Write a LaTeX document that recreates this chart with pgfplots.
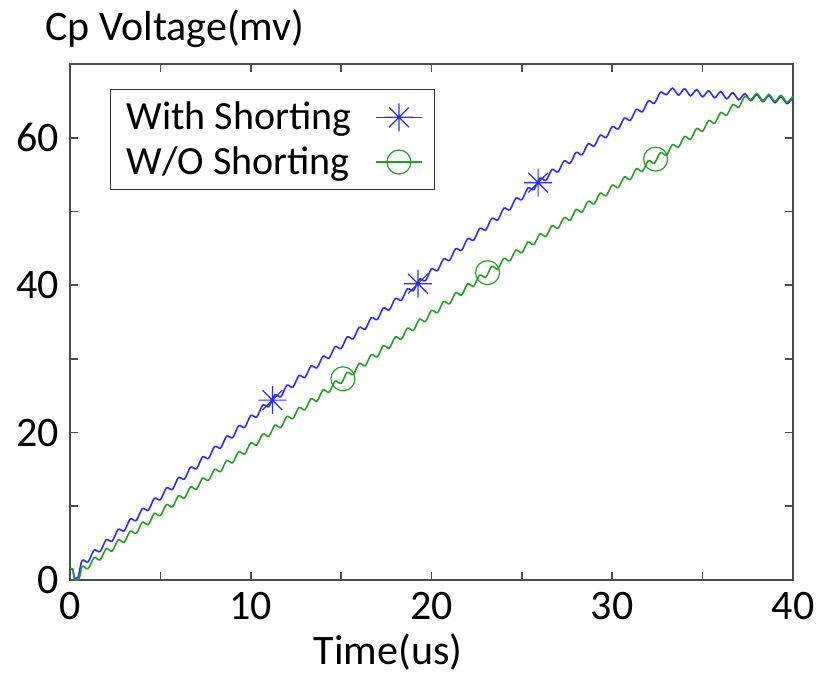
\documentclass[border=0pt]{standalone}
\usepackage{pgfplots}
\pgfplotsset{compat=1.18}
\usepackage{fontspec}
\setmainfont{Carlito}
\definecolor{mblue}{RGB}{45,45,250}
\definecolor{mgreen}{RGB}{40,155,40}
\pgfdeclareplotmark{mstar}{%
 \pgfpathmoveto{\pgfqpoint{-\pgfplotmarksize}{0pt}}\pgfpathlineto{\pgfqpoint{\pgfplotmarksize}{0pt}}%
 \pgfpathmoveto{\pgfqpoint{0pt}{-\pgfplotmarksize}}\pgfpathlineto{\pgfqpoint{0pt}{\pgfplotmarksize}}%
 \pgfpathmoveto{\pgfqpoint{-.707\pgfplotmarksize}{-.707\pgfplotmarksize}}\pgfpathlineto{\pgfqpoint{.707\pgfplotmarksize}{.707\pgfplotmarksize}}%
 \pgfpathmoveto{\pgfqpoint{-.707\pgfplotmarksize}{.707\pgfplotmarksize}}\pgfpathlineto{\pgfqpoint{.707\pgfplotmarksize}{-.707\pgfplotmarksize}}%
 \pgfusepathqstroke}
\begin{document}
\begin{tikzpicture}
\path[use as bounding box] (-35pt,-48pt) rectangle (374.5pt,290pt);
\begin{axis}[
  scale only axis,
  width=361.5pt, height=258pt,
  xmin=0, xmax=40, ymin=0, ymax=70,
  xtick={0,10,20,30,40}, minor xtick={5,15,25,35},
  ytick={0,20,40,60}, minor ytick={10,30,50,70},
  tick align=inside,
  major tick length=4pt, minor tick length=4pt,
  axis line style={black!70, line width=0.8pt},
  every tick/.style={black!70, line width=0.8pt},
  every minor tick/.style={black!70, line width=0.8pt},
  /pgf/number format/assume math mode=true,
  tick label style={font=\fontsize{21}{25}\selectfont, inner sep=0pt},
  xticklabel style={yshift=-6pt},
  yticklabel style={xshift=-5.5pt},
  xlabel={Time(us)},
  ylabel={Cp Voltage(mv)},
  every axis x label/.style={at={(rel axis cs:0.44,0)}, anchor=base, yshift=-42pt, inner sep=0pt, font=\fontsize{21}{25}\selectfont},
  every axis y label/.style={at={(rel axis cs:0,1)}, anchor=base west, xshift=-12.5pt, yshift=12pt, inner sep=0pt, font=\fontsize{21}{25}\selectfont},
  legend style={at={(rel axis cs:0.0553,0.951)}, anchor=north west, draw=black!80, line width=0.6pt,
    font=\fontsize{20}{24}\selectfont, legend plot pos=right, legend cell align=left,
    column sep=10pt, row sep=3pt, inner xsep=6pt, inner ysep=4pt},
  legend image code/.code={\draw[mark repeat=2,mark phase=2,#1] plot coordinates {(0pt,0pt) (11.5pt,0pt) (23pt,0pt)};},
]
% With Shorting (blue)
\addplot[mblue, line width=0.8pt, smooth, tension=0.5, forget plot] coordinates {
(0,1.4) (0.15,1.4) (0.25,0.3) (0.45,0.4)
(0.667,2.65) (1,2.46) (1.333,4.06) (1.667,3.86) (2,5.46) (2.333,5.27) (2.667,6.87) (3,6.67)
(3.333,8.27) (3.667,8.08) (4,9.68) (4.333,9.48) (4.667,11.08) (5,10.89) (5.333,12.49) (5.667,12.29)
(6,13.89) (6.333,13.69) (6.667,15.30) (7,15.10) (7.333,16.70) (7.667,16.50) (8,18.11) (8.333,17.91)
(8.667,19.51) (9,19.31) (9.333,20.92) (9.667,20.72) (10,22.32) (10.333,22.12) (10.667,23.73) (11,23.53)
(11.333,25.11) (11.667,24.87) (12,26.42) (12.333,26.17) (12.667,27.73) (13,27.48) (13.333,29.04) (13.667,28.79)
(14,30.35) (14.333,30.10) (14.667,31.66) (15,31.41) (15.333,32.96) (15.667,32.72) (16,34.27) (16.333,34.03)
(16.667,35.58) (17,35.34) (17.333,36.89) (17.667,36.64) (18,38.20) (18.333,37.95) (18.667,39.51) (19,39.26)
(19.333,40.82) (19.667,40.61) (20,42.20) (20.333,41.98) (20.667,43.57) (21,43.36) (21.333,44.94) (21.667,44.73)
(22,46.32) (22.333,46.10) (22.667,47.69) (23,47.48) (23.333,49.06) (23.667,48.85) (24,50.44) (24.333,50.22)
(24.667,51.81) (25,51.60) (25.333,53.18) (25.667,52.97) (26,54.52) (26.333,54.21) (26.667,55.69) (27,55.37)
(27.333,56.85) (27.667,56.54) (28,58.02) (28.333,57.70) (28.667,59.18) (29,58.86) (29.333,60.34) (29.667,60.03)
(30,61.51) (30.333,61.19) (30.667,62.67) (31,62.36) (31.333,63.84) (31.667,63.52) (32,65.00) (32.333,64.68)
(32.667,66.17) (33,65.85) (33.333,66.72) (33.667,65.78) (34,66.65) (34.333,65.68) (34.667,66.52) (35,65.55)
(35.333,66.38) (35.667,65.42) (36,66.25) (36.333,65.28) (36.667,66.12) (37,65.15) (37.333,65.98) (37.667,65.02)
(38,65.85) (38.333,64.88) (38.667,65.72) (39,64.75) (39.333,65.58) (39.667,64.62) (40,65.45)
};
% W/O Shorting (green)
\addplot[mgreen, line width=0.8pt, smooth, tension=0.5, forget plot] coordinates {
(0,1.5) (0.15,1.5) (0.25,0.1) (0.5,0.1)
(0.667,1.85) (1,1.55) (1.333,3.04) (1.667,2.74) (2,4.24) (2.333,3.94) (2.667,5.44) (3,5.14)
(3.333,6.63) (3.667,6.33) (4,7.83) (4.333,7.53) (4.667,9.03) (5,8.73) (5.333,10.22) (5.667,9.92)
(6,11.42) (6.333,11.12) (6.667,12.62) (7,12.32) (7.333,13.81) (7.667,13.51) (8,15.01) (8.333,14.71)
(8.667,16.21) (9,15.91) (9.333,17.40) (9.667,17.10) (10,18.60) (10.333,18.30) (10.667,19.80) (11,19.50)
(11.333,20.99) (11.667,20.69) (12,22.19) (12.333,21.89) (12.667,23.39) (13,23.09) (13.333,24.58) (13.667,24.28)
(14,25.78) (14.333,25.48) (14.667,26.98) (15,26.68) (15.333,28.17) (15.667,27.87) (16,29.37) (16.333,29.07)
(16.667,30.57) (17,30.27) (17.333,31.77) (17.667,31.47) (18,32.97) (18.333,32.67) (18.667,34.17) (19,33.87)
(19.333,35.37) (19.667,35.07) (20,36.57) (20.333,36.27) (20.667,37.77) (21,37.47) (21.333,38.97) (21.667,38.67)
(22,40.17) (22.333,39.87) (22.667,41.37) (23,41.07) (23.333,42.54) (23.667,42.19) (24,43.64) (24.333,43.29)
(24.667,44.75) (25,44.40) (25.333,45.85) (25.667,45.50) (26,46.95) (26.333,46.60) (26.667,48.06) (27,47.71)
(27.333,49.16) (27.667,48.81) (28,50.26) (28.333,49.92) (28.667,51.37) (29,51.02) (29.333,52.47) (29.667,52.13)
(30,53.58) (30.333,53.23) (30.667,54.68) (31,54.33) (31.333,55.79) (31.667,55.44) (32,56.89) (32.333,56.54)
(32.667,57.99) (33,57.63) (33.333,59.07) (33.667,58.72) (34,60.16) (34.333,59.80) (34.667,61.25) (35,60.89)
(35.333,62.33) (35.667,61.97) (36,63.42) (36.333,63.06) (36.667,64.50) (37,64.14) (37.333,65.59) (37.667,65.15)
(38,66.00) (38.333,65.04) (38.667,65.88) (39,64.92) (39.333,65.76) (39.667,64.81) (40,65.65)
};
% markers
\addplot[mblue, only marks, mark=mstar, mark size=7pt, line width=0.6pt, forget plot] coordinates {
(11.2,24.4) (19.25,40.2) (25.9,53.9)};
\addplot[mgreen, only marks, mark=o, mark size=6pt, line width=0.6pt, forget plot] coordinates {
(15.1,27.3) (23.1,41.7) (32.4,57.1)};
\addlegendimage{mblue, line width=0.6pt, mark=mstar, mark size=7pt}
\addlegendentry{With Shorting}
\addlegendimage{mgreen, line width=0.6pt, mark=o, mark size=6pt}
\addlegendentry{W/O Shorting}
\end{axis}
\end{tikzpicture}
\end{document}
